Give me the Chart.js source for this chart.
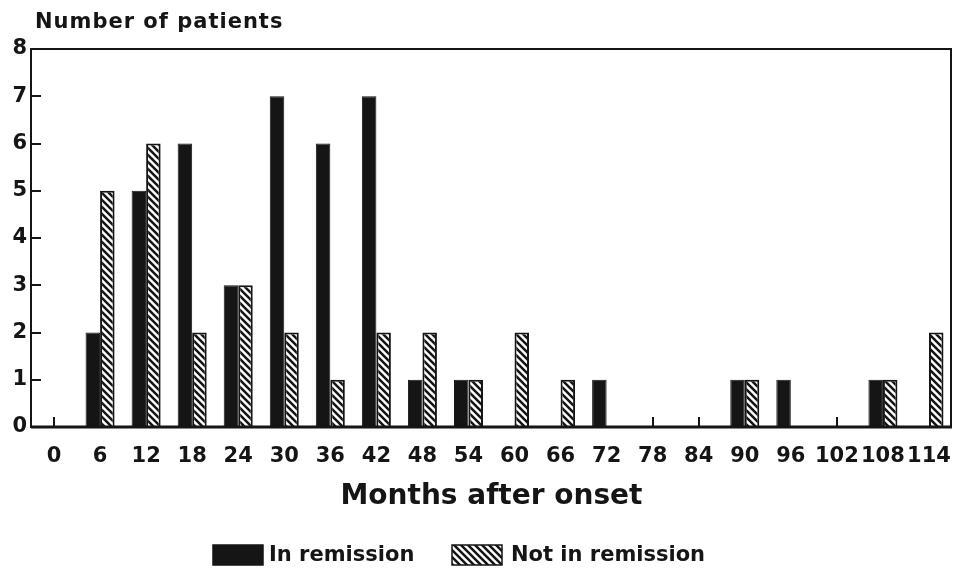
<!DOCTYPE html>
<html>
<head>
<meta charset="utf-8">
<script src="https://cdn.jsdelivr.net/npm/chart.js@4/dist/chart.umd.min.js"></script>
<style>
html,body{margin:0;padding:0;background:#fff;}
#wrap{width:953px;height:584px;position:relative;}
</style>
</head>
<body>
<div id="wrap"><canvas id="c" width="953" height="584"></canvas></div>
<script>
// ---- data ----
const categories = ['0','6','12','18','24','30','36','42','48','54','60','66','72','78','84','90','96','102','108','114'];
const inRemission    = [0,2,5,6,3,7,6,7,1,1,0,0,1,0,0,1,1,0,1,0];
const notInRemission = [0,5,6,2,3,2,1,2,2,1,2,1,0,0,0,1,0,0,1,2];
const yTickValues = [0,1,2,3,4,5,6,7,8];
const seriesNames = ['In remission','Not in remission'];
const yAxisTitle = 'Number of patients';
const xAxisTitle = 'Months after onset';

// ---- styles ----
const INK = '#151515';
const FONT = 'DejaVu Sans';

function hatchPattern() {
  const s = 7;
  const cv = document.createElement('canvas');
  cv.width = s; cv.height = s;
  const g = cv.getContext('2d');
  g.fillStyle = '#ffffff';
  g.fillRect(0, 0, s, s);
  g.strokeStyle = INK;
  g.lineWidth = 2.5;
  g.beginPath();
  for (let k = -1; k <= 1; k++) {
    g.moveTo(-1, -1 + k * s);
    g.lineTo(s + 1, s + 1 + k * s);
  }
  g.stroke();
  return g.createPattern(cv, 'repeat');
}
const hatch = hatchPattern();

const framePlugin = {
  id: 'frame',
  beforeDatasetsDraw(chart) {
    const {ctx, chartArea: a, scales} = chart;
    ctx.save();
    ctx.strokeStyle = INK;
    ctx.lineWidth = 2;
    ctx.beginPath();
    // x tick marks (pointing up) where no bar covers the category centre
    categories.forEach((c, i) => {
      if (inRemission[i] || notInRemission[i]) return;
      const x = Math.round(scales.x.getPixelForValue(i));
      ctx.moveTo(x, a.bottom);
      ctx.lineTo(x, a.bottom - 10);
    });
    yTickValues.forEach(v => {
      const y = Math.round(scales.y.getPixelForValue(v));
      ctx.moveTo(a.left, y);
      ctx.lineTo(a.left + 10, y);
    });
    ctx.stroke();
    ctx.restore();
  },
  afterDraw(chart) {
    const {ctx, chartArea: a} = chart;
    ctx.save();
    ctx.strokeStyle = INK;
    ctx.lineWidth = 2;
    ctx.strokeRect(a.left, a.top, a.right - a.left - 1, a.bottom - a.top);
    ctx.lineWidth = 3;
    ctx.beginPath();
    ctx.moveTo(a.left, a.bottom);
    ctx.lineTo(a.right, a.bottom);
    ctx.stroke();

    // y-axis title (horizontal, above the plot)
    ctx.fillStyle = INK;
    ctx.font = 'bold 21px "' + FONT + '"';
    ctx.letterSpacing = '1px';
    ctx.textAlign = 'left';
    ctx.textBaseline = 'middle';
    ctx.fillText(yAxisTitle, 35, 23);
    ctx.letterSpacing = '0px';

    // legend
    const items = [
      {x: 213, tx: 269, ds: chart.data.datasets[0]},
      {x: 452, tx: 511, ds: chart.data.datasets[1]}
    ];
    ctx.font = 'bold 21px "' + FONT + '"';
    items.forEach(it => {
      ctx.fillStyle = it.ds.backgroundColor;
      ctx.fillRect(it.x, 545, 50, 20);
      ctx.lineWidth = 1.5;
      ctx.strokeStyle = INK;
      ctx.strokeRect(it.x, 545, 50, 20);
      ctx.fillStyle = INK;
      ctx.fillText(it.ds.label, it.tx, 556);
    });
    ctx.restore();
  }
};

const bw = w => (c => (c.raw ? w : 0));

new Chart(document.getElementById('c'), {
  type: 'bar',
  data: {
    labels: categories,
    datasets: [
      {label: seriesNames[0], data: inRemission, backgroundColor: INK, borderColor: INK, borderWidth: bw(1)},
      {label: seriesNames[1], data: notInRemission, backgroundColor: hatch, borderColor: INK, borderWidth: bw(2)}
    ]
  },
  options: {
    responsive: false,
    animation: false,
    devicePixelRatio: 1,
    layout: {padding: {left: 0, right: 1, top: 49, bottom: 64}},
    datasets: {bar: {barPercentage: 1, categoryPercentage: 0.63}},
    plugins: {legend: {display: false}, tooltip: {enabled: false}},
    scales: {
      x: {
        type: 'category',
        offset: true,
        grid: {display: false, drawTicks: false},
        border: {display: false},
        ticks: {
          autoSkip: false, maxRotation: 0, minRotation: 0, padding: 17,
          color: INK, font: {family: FONT, weight: 'bold', size: 21}
        },
        title: {
          display: true, text: xAxisTitle, color: INK,
          font: {family: FONT, weight: 'bold', size: 28},
          padding: {top: 2, bottom: 6}
        },
        afterFit(s) { s.height = 93; s.paddingLeft = 0; s.paddingRight = 0; }
      },
      y: {
        min: 0, max: 8,
        grid: {display: false, drawTicks: false},
        border: {display: false},
        ticks: {
          stepSize: 1, padding: 4, color: INK,
          font: {family: FONT, weight: 'bold', size: 21}
        },
        afterFit(s) { s.width = 31; s.paddingTop = 0; s.paddingBottom = 0; }
      }
    }
  },
  plugins: [framePlugin]
});
</script>
</body>
</html>
